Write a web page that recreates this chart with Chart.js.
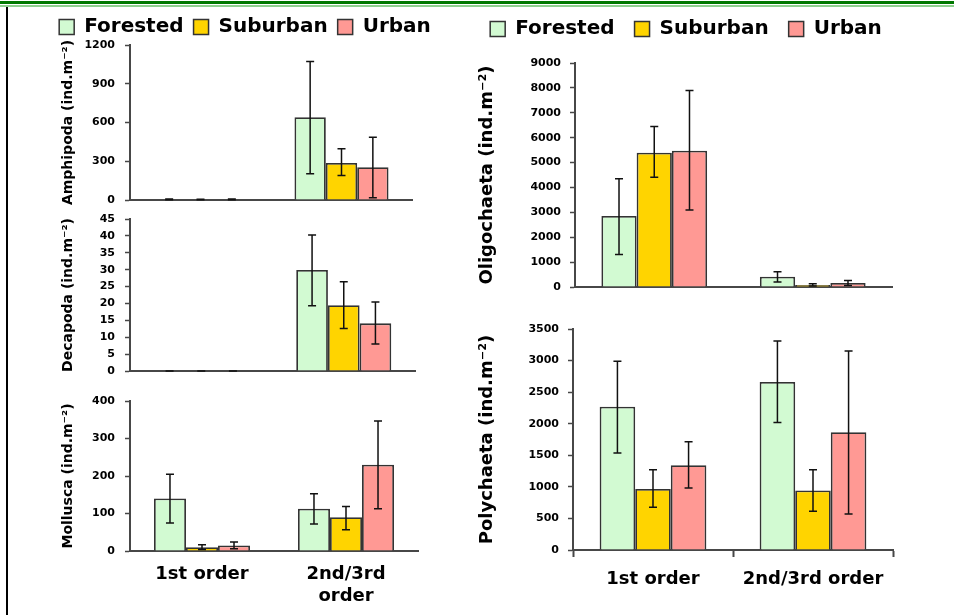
<!DOCTYPE html>
<html><head><meta charset="utf-8">
<script src="https://cdn.jsdelivr.net/npm/chart.js@4.4.1/dist/chart.umd.min.js"></script>
<style>
html,body{margin:0;padding:0;background:#fff;}
#page{position:relative;width:954px;height:615px;overflow:hidden;background:#fff;}
.g1{position:absolute;left:0;top:1px;width:954px;height:3px;background:#007800;}
.g2{position:absolute;left:0;top:5px;width:954px;height:2px;background:#8fd08f;}
.vl{position:absolute;left:6px;top:7px;width:2px;height:608px;background:#000;}
canvas{position:absolute;}
</style></head><body>
<div id="page">
<div class="g1"></div><div class="g2"></div><div class="vl"></div>
<canvas id="amph" width="422" height="175" style="left:0px;top:35px"></canvas>
<canvas id="deca" width="425" height="172" style="left:0px;top:209px"></canvas>
<canvas id="moll" width="428" height="224" style="left:0px;top:391px"></canvas>
<canvas id="olig" width="432" height="244" style="left:470px;top:53px"></canvas>
<canvas id="poly" width="433" height="296" style="left:470px;top:319px"></canvas>
<canvas id="legL" width="450" height="100" style="left:20px;top:7px"></canvas>
<canvas id="legR" width="470" height="120" style="left:451px;top:-1px"></canvas>
</div>
<script>
const categories = ['1st order', '2nd/3rd order'];
const seriesNames = ['Forested', 'Suburban', 'Urban'];
const seriesColors = ['#D2FAD2', '#FFD400', '#FF9994'];

// means: [Forested, Suburban, Urban] x [1st, 2nd/3rd]; errors: [low, high]
const amphipodaMeans = [[4, 641], [3, 287], [4, 254]];
const amphipodaErrors = [[[1, 7], [204, 1073]], [[1, 5], [189, 396]], [[1, 7], [18, 486]]];
const amphipodaTicks = [0, 300, 600, 900, 1200];

const decapodaMeans = [[0, 29.9], [0, 19.5], [0, 14.1]];
const decapodaErrors = [[[0, 0], [19.3, 40.3]], [[0, 0], [12.6, 26.4]], [[0, 0], [8.0, 20.4]]];
const decapodaTicks = [0, 5, 10, 15, 20, 25, 30, 35, 40, 45];

const molluscaMeans = [[140, 113], [10, 90], [15, 230]];
const molluscaErrors = [[[75, 205], [72, 153]], [[4, 17], [57, 119]], [[6, 24], [113, 347]]];
const molluscaTicks = [0, 100, 200, 300, 400];

const oligochaetaMeans = [[2856, 412], [5392, 85], [5472, 160]];
const oligochaetaErrors = [[[1306, 4350], [200, 613]], [[4406, 6449], [40, 130]], [[3096, 7891], [65, 265]]];
const oligochaetaTicks = [0, 1000, 2000, 3000, 4000, 5000, 6000, 7000, 8000, 9000];

const polychaetaMeans = [[2268, 2660], [968, 942], [1343, 1866]];
const polychaetaErrors = [[[1538, 2988], [2020, 3310]], [[677, 1269], [614, 1269]], [[983, 1713], [571, 3151]]];
const polychaetaTicks = [0, 500, 1000, 1500, 2000, 2500, 3000, 3500];

const AXIS = '#474747';
const EDGE = '#333333';
const FONT = "'DejaVu Sans', Verdana, sans-serif";
Chart.defaults.color = '#000';

const errorBars = {
  id: 'errorBars',
  afterDatasetsDraw(chart) {
    const ctx = chart.ctx, ys = chart.scales.y;
    ctx.save();
    ctx.strokeStyle = '#111';
    ctx.lineWidth = 1.5;
    chart.data.datasets.forEach((ds, i) => {
      const meta = chart.getDatasetMeta(i);
      if (!ds.errors || meta.hidden) return;
      meta.data.forEach((bar, j) => {
        const e = ds.errors[j];
        if (!e) return;
        const x = bar.x, yl = ys.getPixelForValue(e[0]), yh = ys.getPixelForValue(e[1]);
        const cap = 4;
        ctx.beginPath();
        ctx.moveTo(x, yl); ctx.lineTo(x, yh);
        ctx.moveTo(x - cap, yl); ctx.lineTo(x + cap, yl);
        ctx.moveTo(x - cap, yh); ctx.lineTo(x + cap, yh);
        ctx.stroke();
      });
    });
    ctx.restore();
  }
};

function panel(id, o) {
  const datasets = seriesNames.map((name, k) => ({
    label: name, data: o.means[k], errors: o.errors[k],
    backgroundColor: seriesColors[k], borderColor: EDGE, borderWidth: 1.8,
    categoryPercentage: 0.667, barPercentage: 1.0
  }));
  new Chart(document.getElementById(id), {
    type: 'bar',
    data: { labels: categories, datasets },
    plugins: [errorBars],
    options: {
      responsive: false, animation: false, devicePixelRatio: 1,
      layout: { padding: { top: 10, right: 10, left: 0, bottom: 0 } },
      plugins: { legend: { display: false }, tooltip: { enabled: false } },
      scales: {
        x: {
          afterFit: s => { s.height = o.xHeight; s.paddingLeft = 0; s.paddingRight = 0; s.paddingTop = 0; s.paddingBottom = 0; },
          grid: { display: o.xTicks, drawOnChartArea: false, drawTicks: o.xTicks, tickLength: 7, tickColor: AXIS, tickWidth: 2, offset: true },
          border: { display: true, color: AXIS, width: 2 },
          ticks: {
            display: o.xLabels, color: '#000', padding: o.xPad, maxRotation: 0, autoSkip: false,
            font: { family: FONT, size: 18, weight: 'bold' },
            callback: function (v) {
              const l = this.getLabelForValue(v);
              if (o.wrap && l.length > 10) { const p = l.lastIndexOf(' '); return [l.slice(0, p), l.slice(p + 1)]; }
              return l;
            }
          }
        },
        y: {
          min: o.ticks[0], max: o.ticks[o.ticks.length - 1],
          afterFit: s => { s.width = o.yWidth; s.paddingTop = 0; s.paddingBottom = 0; s.paddingLeft = 0; s.paddingRight = 0; },
          grid: { drawOnChartArea: false, drawTicks: true, tickLength: 5, tickColor: AXIS, tickWidth: 1.5 },
          border: { color: AXIS, width: 2 },
          ticks: { stepSize: o.ticks[1] - o.ticks[0], color: '#000', padding: o.yPad, font: { family: FONT, size: 11, weight: 'bold' }, callback: v => String(v) },
          title: { display: true, text: o.title, color: '#000', font: { family: FONT, size: o.titleSize, weight: 'bold' }, padding: { top: o.titlePad, bottom: 0 } }
        }
      }
    }
  });
}

function legendChart(id, pad) {
  new Chart(document.getElementById(id), {
    type: 'bar',
    data: { labels: [], datasets: seriesNames.map((n, k) => ({ label: n, data: [], backgroundColor: seriesColors[k], borderColor: EDGE, borderWidth: 1.5 })) },
    options: {
      responsive: false, animation: false, devicePixelRatio: 1, layout: { padding: 0 },
      scales: { x: { display: false }, y: { display: false } },
      plugins: {
        tooltip: { enabled: false },
        legend: { display: true, position: 'top', labels: { boxWidth: 15, boxHeight: 15, padding: pad, color: '#000', font: { family: FONT, size: 20, weight: 'bold' } } }
      }
    }
  });
}

panel('amph', { means: amphipodaMeans, errors: amphipodaErrors, ticks: amphipodaTicks, title: 'Amphipoda (ind.m⁻²)', titleSize: 14, titlePad: 60, yWidth: 130, yPad: 10, xHeight: 10, xTicks: false, xLabels: false, xPad: 0 });
panel('deca', { means: decapodaMeans, errors: decapodaErrors, ticks: decapodaTicks, title: 'Decapoda (ind.m⁻²)', titleSize: 14, titlePad: 60, yWidth: 130, yPad: 10, xHeight: 10, xTicks: false, xLabels: false, xPad: 0 });
panel('moll', { means: molluscaMeans, errors: molluscaErrors, ticks: molluscaTicks, title: 'Mollusca (ind.m⁻²)', titleSize: 14, titlePad: 60, yWidth: 130, yPad: 10, xHeight: 64, xTicks: false, xLabels: true, xPad: 13, wrap: true });
panel('olig', { means: oligochaetaMeans, errors: oligochaetaErrors, ticks: oligochaetaTicks, title: 'Oligochaeta (ind.m⁻²)', titleSize: 18, titlePad: 7, yWidth: 105, yPad: 9, xHeight: 10, xTicks: false, xLabels: false, xPad: 0 });
panel('poly', { means: polychaetaMeans, errors: polychaetaErrors, ticks: polychaetaTicks, title: 'Polychaeta (ind.m⁻²)', titleSize: 18, titlePad: 7, yWidth: 103, yPad: 9, xHeight: 65, xTicks: true, xLabels: true, xPad: 12 });

legendChart('legL', 10);
legendChart('legR', 20);
</script>
</body></html>
